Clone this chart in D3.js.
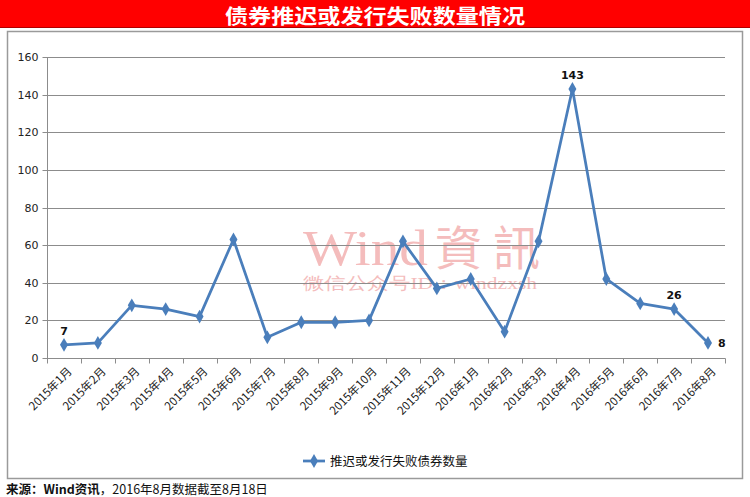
<!DOCTYPE html>
<html><head><meta charset="utf-8">
<script src="https://cdn.jsdelivr.net/npm/d3@7"></script>
<style>body{margin:0;background:#fff;}svg{display:block;font-family:"Liberation Sans",Arial,sans-serif;}</style>
</head><body><svg id="c" width="750" height="497"></svg>
<script>
const categories = ["2015年1月","2015年2月","2015年3月","2015年4月","2015年5月","2015年6月","2015年7月","2015年8月","2015年9月","2015年10月","2015年11月","2015年12月","2016年1月","2016年2月","2016年3月","2016年4月","2016年5月","2016年6月","2016年7月","2016年8月"];
const values = [7,8,28,26,22,63,11,19,19,20,62,37,42,14,62,143,42,29,26,8];
const yTicks = [0,20,40,60,80,100,120,140,160];
const labeled = ["2015年1月","2016年4月","2016年7月","2016年8月"];
const seriesName = "推迟或发行失败债券数量";
const title = "债券推迟或发行失败数量情况";

const svg = d3.select("#c");
// title bar
svg.append("rect").attr("x",0).attr("y",0).attr("width",750).attr("height",27).attr("fill","#ff0000");
svg.append("line").attr("x1",0).attr("x2",750).attr("y1",27.5).attr("y2",27.5).attr("stroke","#b00000");
svg.append("text").attr("x",375).attr("y",24).attr("text-anchor","middle").attr("fill","#fff")
  .attr("font-size",20).attr("font-weight","bold").attr("font-family","'Noto Sans CJK SC'")
  .attr("textLength",300).attr("lengthAdjust","spacingAndGlyphs").text(title);
// chart box
svg.append("rect").attr("x",7.5).attr("y",31.5).attr("width",735).attr("height",447).attr("fill","#fff").attr("stroke","#9a9a9a").attr("stroke-width",1.5);

const x = d3.scalePoint().domain(categories).range([64,708]);
const y = d3.scaleLinear().domain([0,160]).range([358,57]);

// watermark
const wm = svg.append("text").attr("x",303).attr("y",265).attr("fill","#f4bcbc");
wm.append("tspan").attr("font-size",50).attr("font-family","'Liberation Serif',serif").attr("textLength",125).attr("lengthAdjust","spacingAndGlyphs").text("Wind");
wm.append("tspan").attr("x",435).attr("font-size",47).attr("font-family","'Noto Sans CJK TC'").attr("textLength",105).attr("lengthAdjust","spacing").text("資訊");
svg.append("text").attr("x",303).attr("y",289).attr("fill","#f4bcbc")
  .attr("font-size",17).attr("font-family","'Liberation Serif',serif").attr("textLength",234).attr("lengthAdjust","spacingAndGlyphs").text("微信公众号ID：windzxsh");

// gridlines
svg.append("g").selectAll("line").data(yTicks.filter(d=>d>0)).join("line")
  .attr("x1",47).attr("x2",725).attr("y1",d=>Math.round(y(d))+0.5).attr("y2",d=>Math.round(y(d))+0.5)
  .attr("stroke","#8c8c8c").attr("stroke-width",1);

// y axis
const yAxis = svg.append("g").attr("transform","translate(47.5,0)")
  .call(d3.axisLeft(y).tickValues(yTicks).tickSize(5).tickPadding(4));
yAxis.select(".domain").attr("stroke","#8c8c8c").attr("d","M0,"+y(160)+"V"+y(0));
yAxis.selectAll(".tick line").attr("stroke","#8c8c8c");
yAxis.selectAll("text").attr("font-size",11).attr("fill","#222").attr("font-family","'DejaVu Sans'");
yAxis.selectAll(".tick").attr("transform",d=>"translate(0,"+(Math.round(y(d))+0.5)+")");

// x axis
const xb = d3.scaleBand().domain(categories).range([47,725]);
const xg = svg.append("g").attr("transform","translate(0,358.5)");
xg.append("line").attr("x1",47).attr("x2",725.5).attr("stroke","#8c8c8c");
xg.selectAll("line.tk").data(categories.concat(["_end"])).join("line").attr("class","tk")
  .attr("x1",(d,i)=>Math.round(47+i*xb.step())+0.5).attr("x2",(d,i)=>Math.round(47+i*xb.step())+0.5)
  .attr("y1",0).attr("y2",5).attr("stroke","#8c8c8c");
xg.selectAll("text").data(categories).join("text")
  .attr("transform",d=>"translate("+(x(d)+3)+",8) rotate(-45)")
  .attr("text-anchor","end").attr("dy","0.7em").attr("font-size",11.5).attr("fill","#222")
  .attr("font-family","'Noto Sans CJK SC'").text(d=>d);

// line
const line = d3.line().x((d,i)=>x(categories[i])).y(d=>y(d));
svg.append("path").datum(values).attr("d",line).attr("fill","none").attr("stroke","#4a7ebb").attr("stroke-width",2.75).attr("stroke-linejoin","round");
const diamond = d3.symbol().type(d3.symbolDiamond).size(55);
svg.append("g").selectAll("path").data(values).join("path").attr("d",diamond)
  .attr("transform",(d,i)=>"translate("+x(categories[i])+","+y(d)+")").attr("fill","#4a7ebb");

// data labels
svg.append("g").selectAll("text").data(categories.map((c,i)=>({c,v:values[i]})).filter(d=>labeled.includes(d.c))).join("text")
  .attr("x",d=>d.c==="2016年8月"? x(d.c)+10 : x(d.c))
  .attr("y",d=>d.c==="2016年8月"? y(d.v)+4 : y(d.v)-10)
  .attr("text-anchor",d=>d.c==="2016年8月"?"start":"middle")
  .attr("font-size",11).attr("font-weight","bold").attr("fill","#111").attr("font-family","'DejaVu Sans'")
  .text(d=>d.v);

// legend
const lg = svg.append("g").attr("transform","translate(303,461)");
lg.append("line").attr("x1",0).attr("x2",22).attr("stroke","#4a7ebb").attr("stroke-width",2.75);
lg.append("path").attr("d",diamond).attr("transform","translate(11,0)").attr("fill","#4a7ebb");
lg.append("text").attr("x",27).attr("y",4.5).attr("font-size",12.5).attr("fill","#111").attr("font-family","'Noto Sans CJK SC'").text(seriesName);

// footer
const ft = svg.append("text").attr("x",6).attr("y",494).attr("font-size",12.5).attr("fill","#111").attr("font-family","'Noto Sans CJK SC'");
ft.append("tspan").attr("font-weight","bold").text("来源：Wind资讯");
ft.append("tspan").text("，2016年8月数据截至8月18日");
</script></body></html>
